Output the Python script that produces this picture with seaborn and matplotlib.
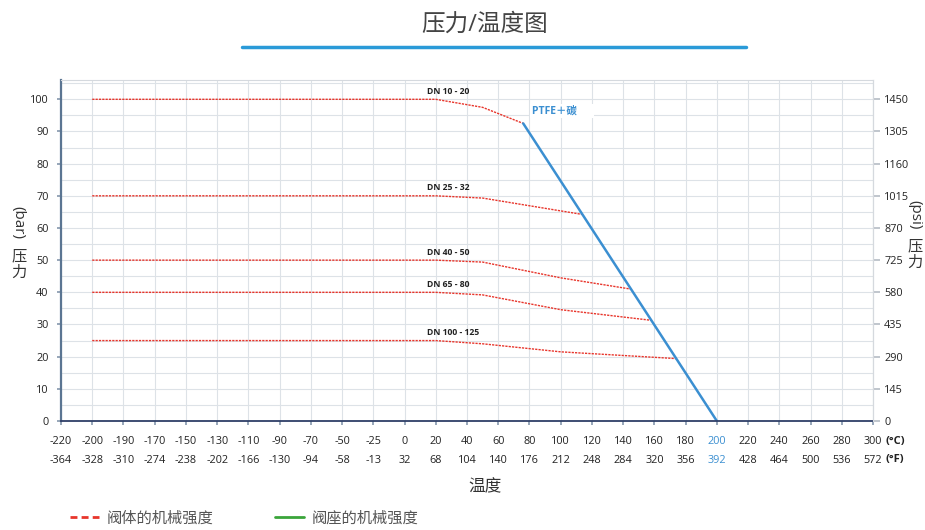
import numpy as np
import pandas as pd
import matplotlib
matplotlib.use("Agg")
import matplotlib.pyplot as plt
from matplotlib.lines import Line2D
import seaborn as sns

# Tick labels of the temperature axis (evenly spaced categories)
celsius = [-220, -200, -190, -170, -150, -130, -110, -90, -70, -50, -25, 0,
           20, 40, 60, 80, 100, 120, 140, 160, 180, 200, 220, 240, 260, 280, 300]
fahrenheit = [-364, -328, -310, -274, -238, -202, -166, -130, -94, -58, -13, 32,
              68, 104, 140, 176, 212, 248, 284, 320, 356, 392, 428, 464, 500, 536, 572]

# Valve body strength curves (temperature in °C, pressure in bar)
dn10_t = [-200, 20, 50, 76]
dn10_p = [100, 100, 97.5, 92.5]
dn25_t = [-200, 20, 50, 114]
dn25_p = [70, 70, 69.3, 64.2]
dn40_t = [-200, 20, 50, 100, 145]
dn40_p = [50, 50, 49.4, 44.5, 41.0]
dn65_t = [-200, 20, 50, 100, 158]
dn65_p = [40, 40, 39.2, 34.6, 31.3]
dn100_t = [-200, 20, 50, 100, 174]
dn100_p = [25, 25, 24.0, 21.5, 19.4]
body_names = ["DN 10 - 20", "DN 25 - 32", "DN 40 - 50", "DN 65 - 80", "DN 100 - 125"]

# Seat curve PTFE + carbon
ptfe_t = [76, 200]
ptfe_p = [92.5, 0]

bar_ticks = list(range(0, 101, 10))
psi_ticks = [0, 145, 290, 435, 580, 725, 870, 1015, 1160, 1305, 1450]

RED = "#e8352b"
BLUE = "#3b8fd1"
GREEN = "#3aa53a"

tick_idx = np.arange(len(celsius))


def to_pos(t):
    # map a temperature onto the evenly spaced category axis
    return np.interp(t, celsius, tick_idx)


rows = []
for name, ts, ps in zip(body_names, [dn10_t, dn25_t, dn40_t, dn65_t, dn100_t],
                        [dn10_p, dn25_p, dn40_p, dn65_p, dn100_p]):
    for t, p in zip(ts, ps):
        rows.append({"series": name, "pos": to_pos(t), "bar": p})
body = pd.DataFrame(rows)
seat = pd.DataFrame({"pos": to_pos(ptfe_t), "bar": ptfe_p})

sns.set_theme(style="whitegrid")
plt.rcParams["font.family"] = ["Open Sans", "Noto Sans CJK SC", "DejaVu Sans"]

fig = plt.figure(figsize=(9.25, 5.3), dpi=100)
ax = fig.add_axes([61 / 925, 109 / 530, 812 / 925, 341 / 530])

sns.lineplot(data=body, x="pos", y="bar", units="series", estimator=None, sort=False,
             color=RED, linewidth=1.0, linestyle=(0, (1.6, 0.8)), ax=ax)
sns.lineplot(data=seat, x="pos", y="bar", sort=False, color=BLUE, linewidth=1.8, ax=ax)

ax.set_xlim(0, len(celsius) - 1)
ax.set_ylim(0, 106)
ax.set_xlabel("")
ax.set_ylabel("")

ax.set_xticks(tick_idx, labels=[str(c) for c in celsius])
ax.set_yticks(bar_ticks)
ax.set_yticks(np.arange(0, 106, 5), minor=True)
ax.grid(which="both", axis="y", color="#dde2e7", linewidth=0.8)
ax.grid(which="major", axis="x", color="#dde2e7", linewidth=0.8)
ax.tick_params(axis="x", bottom=True, length=3, pad=8, labelsize=7.8,
               labelcolor="#222222", color="#8a9bb0")
ax.tick_params(axis="y", which="major", left=True, length=3, pad=6, labelsize=7.8,
               labelcolor="#222222", color="#8a9bb0")
ax.tick_params(axis="y", which="minor", length=0)
ax.get_xticklabels()[celsius.index(200)].set_color(BLUE)

for side in ["top", "right"]:
    ax.spines[side].set_color("#d5d9de")
    ax.spines[side].set_linewidth(0.8)
ax.spines["left"].set_color("#5b7592")
ax.spines["left"].set_linewidth(1.6)
ax.spines["bottom"].set_color("#2f3f68")
ax.spines["bottom"].set_linewidth(1.3)

# Fahrenheit row
sec = ax.secondary_xaxis(-0.054)
sec.set_xticks(tick_idx, labels=[str(f) for f in fahrenheit])
sec.spines["bottom"].set_visible(False)
sec.tick_params(length=0, pad=11, labelsize=7.8, labelcolor="#222222")
sec.get_xticklabels()[celsius.index(200)].set_color(BLUE)

ax.annotate("(°C)", xy=(1, 0), xycoords="axes fraction", xytext=(9, -14.5),
            textcoords="offset points", ha="left", va="center", fontsize=8,
            fontweight="bold", color="#222222")
ax.annotate("(°F)", xy=(1, 0), xycoords="axes fraction", xytext=(9, -27.5),
            textcoords="offset points", ha="left", va="center", fontsize=8,
            fontweight="bold", color="#222222")

# psi axis on the right
ax2 = ax.twinx()
ax2.set_ylim(0, 106 * 14.5)
ax2.set_yticks(psi_ticks)
ax2.grid(False)
for side in ["top", "left", "bottom"]:
    ax2.spines[side].set_visible(False)
ax2.spines["right"].set_color("#d5d9de")
ax2.spines["right"].set_linewidth(0.8)
ax2.tick_params(axis="y", right=True, length=5, pad=3, labelsize=7.8,
                labelcolor="#222222", color="#b8bfc7")

# curve labels
for name, ts, ps in zip(body_names, [dn10_t, dn25_t, dn40_t, dn65_t, dn100_t],
                        [dn10_p, dn25_p, dn40_p, dn65_p, dn100_p]):
    ax.annotate(name, xy=(to_pos(ts[1]), ps[1]), xytext=(-6, 2.5),
                textcoords="offset points", ha="left", va="bottom",
                fontsize=6.2, fontweight="bold", color="#222222")
ax.annotate("PTFE＋碳      ", xy=(to_pos(ptfe_t[0]), ptfe_p[0]), xytext=(6, 9),
            textcoords="offset points", ha="left", va="center", fontsize=7.5,
            fontweight="bold", color=BLUE,
            bbox=dict(boxstyle="square,pad=0.15", fc="white", ec="none"))

# axis titles
fig.text(485 / 925, 1 - 487 / 530, "温度", ha="center", va="center",
         fontsize=12, color="#333333")
fig.text(18 / 925, 1 - 222 / 530, "(bar)", rotation=-90, ha="center", va="center",
         fontsize=11, color="#333333")
fig.text(19 / 925, 1 - 265 / 530, "压\n力", ha="center", va="center",
         fontsize=11, color="#333333", linespacing=1.15)
fig.text(915 / 925, 1 - 215 / 530, "(psi)", rotation=-90, ha="center", va="center",
         fontsize=11, color="#333333")
fig.text(915 / 925, 1 - 255 / 530, "压\n力", ha="center", va="center",
         fontsize=11, color="#333333", linespacing=1.15)

# title with underline
fig.text(485 / 925, 1 - 25 / 530, "压力/温度图", ha="center", va="center",
         fontsize=17, color="#444444")
fig.add_artist(Line2D([242 / 925, 746 / 925], [1 - 47 / 530] * 2,
                      color="#2a9ad8", linewidth=2.5))

# legend
handles = [Line2D([], [], color=RED, linewidth=2, linestyle=(0, (2.5, 1.5))),
           Line2D([], [], color=GREEN, linewidth=2)]
fig.legend(handles, ["阀体的机械强度", "阀座的机械强度"], loc="center left",
           bbox_to_anchor=(70 / 925, 1 - 519 / 530), ncol=2, frameon=False,
           fontsize=11, labelcolor="#555555", handlelength=1.9, handletextpad=0.5,
           columnspacing=4.05, borderpad=0, borderaxespad=0)

fig.savefig("out.png", dpi=100)
